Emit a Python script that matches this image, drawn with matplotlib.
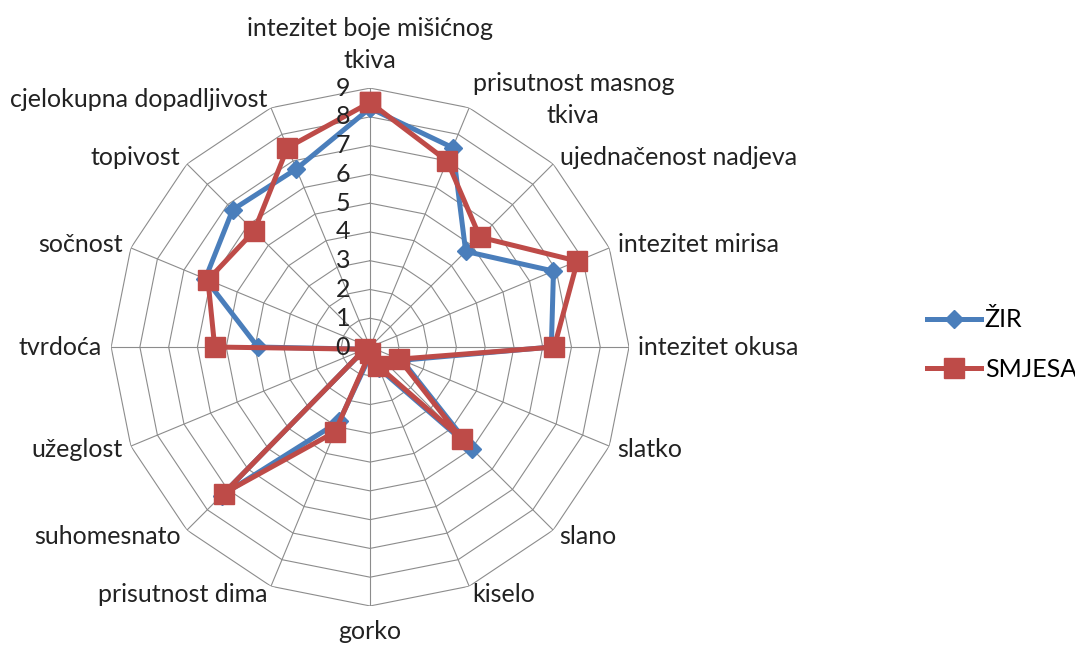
import numpy as np
import matplotlib
matplotlib.use("Agg")
import matplotlib.pyplot as plt

plt.rcParams["font.family"] = ["Lato", "DejaVu Sans"]

# categories, clockwise from the top
categories = [
    "intezitet boje mišićnog\ntkiva",
    "prisutnost masnog\ntkiva",
    "ujednačenost nadjeva",
    "intezitet mirisa",
    "intezitet okusa",
    "slatko",
    "slano",
    "kiselo",
    "gorko",
    "prisutnost dima",
    "suhomesnato",
    "užeglost",
    "tvrdoća",
    "sočnost",
    "topivost",
    "cjelokupna dopadljivost",
]
zir = [8.3, 7.5, 4.7, 6.9, 6.3, 1.2, 5.0, 0.8, 0.3, 2.8, 7.3, 0.2, 3.9, 6.2, 6.75, 6.7]
smjesa = [8.5, 7.0, 5.4, 7.8, 6.4, 1.1, 4.5, 0.7, 0.2, 3.2, 7.2, 0.2, 5.4, 6.1, 5.7, 7.5]
ring_values = list(range(0, 10))

n = len(categories)
angles = np.arange(n) * 2 * np.pi / n
closed = np.append(angles, angles[0])

fig = plt.figure(figsize=(10.75, 6.49), dpi=100)
ax = fig.add_axes([0.1033, 0.0663, 0.4819, 0.798], projection="polar")
ax.set_theta_zero_location("N")
ax.set_theta_direction(-1)
ax.set_ylim(0, 9)
ax.grid(False)
ax.set_xticks([])
ax.set_yticks([])
ax.spines["polar"].set_visible(False)

grid_color = "#8c8c8c"
# polygon rings and spokes
for r in ring_values[1:]:
    ax.plot(closed, [r] * (n + 1), color=grid_color, lw=0.8, zorder=1)
for a in angles:
    ax.plot([a, a], [0, 9], color=grid_color, lw=0.8, zorder=1)

ax.plot(closed, zir + zir[:1], color="#4a7ebb", lw=3.6, marker="D", ms=9.5,
        label="ŽIR", zorder=3, clip_on=False)
ax.plot(closed, smjesa + smjesa[:1], color="#be4b48", lw=3.6, marker="s", ms=14.5,
        label="SMJESA", zorder=4, clip_on=False)

# radial value labels
for r in ring_values:
    ax.annotate(str(r), xy=(0, r), xytext=(-20, 0), textcoords="offset pixels",
                ha="right", va="center", fontsize=18, color="#222222", zorder=6)

# category labels
for a, lab in zip(angles, categories):
    s, c = np.sin(a), np.cos(a)
    if abs(s) < 0.01:
        ha = "center"
        va = "bottom" if c > 0 else "top"
        off = (0, 16) if c > 0 else (0, -14)
    else:
        ha = "left" if s > 0 else "right"
        va = "center"
        off = (9 * s, 9 * c)
    ax.annotate(lab, xy=(a, 9), xytext=off, textcoords="offset pixels",
                ha=ha, va=va, multialignment="center", fontsize=18,
                color="#222222", linespacing=1.5, annotation_clip=False)

fig.legend(loc="center left", bbox_to_anchor=(0.8415, 0.469), frameon=False,
           fontsize=18, handlelength=2.15, handletextpad=0.16, labelspacing=1.05,
           numpoints=1)

fig.savefig("out.png", dpi=100)
